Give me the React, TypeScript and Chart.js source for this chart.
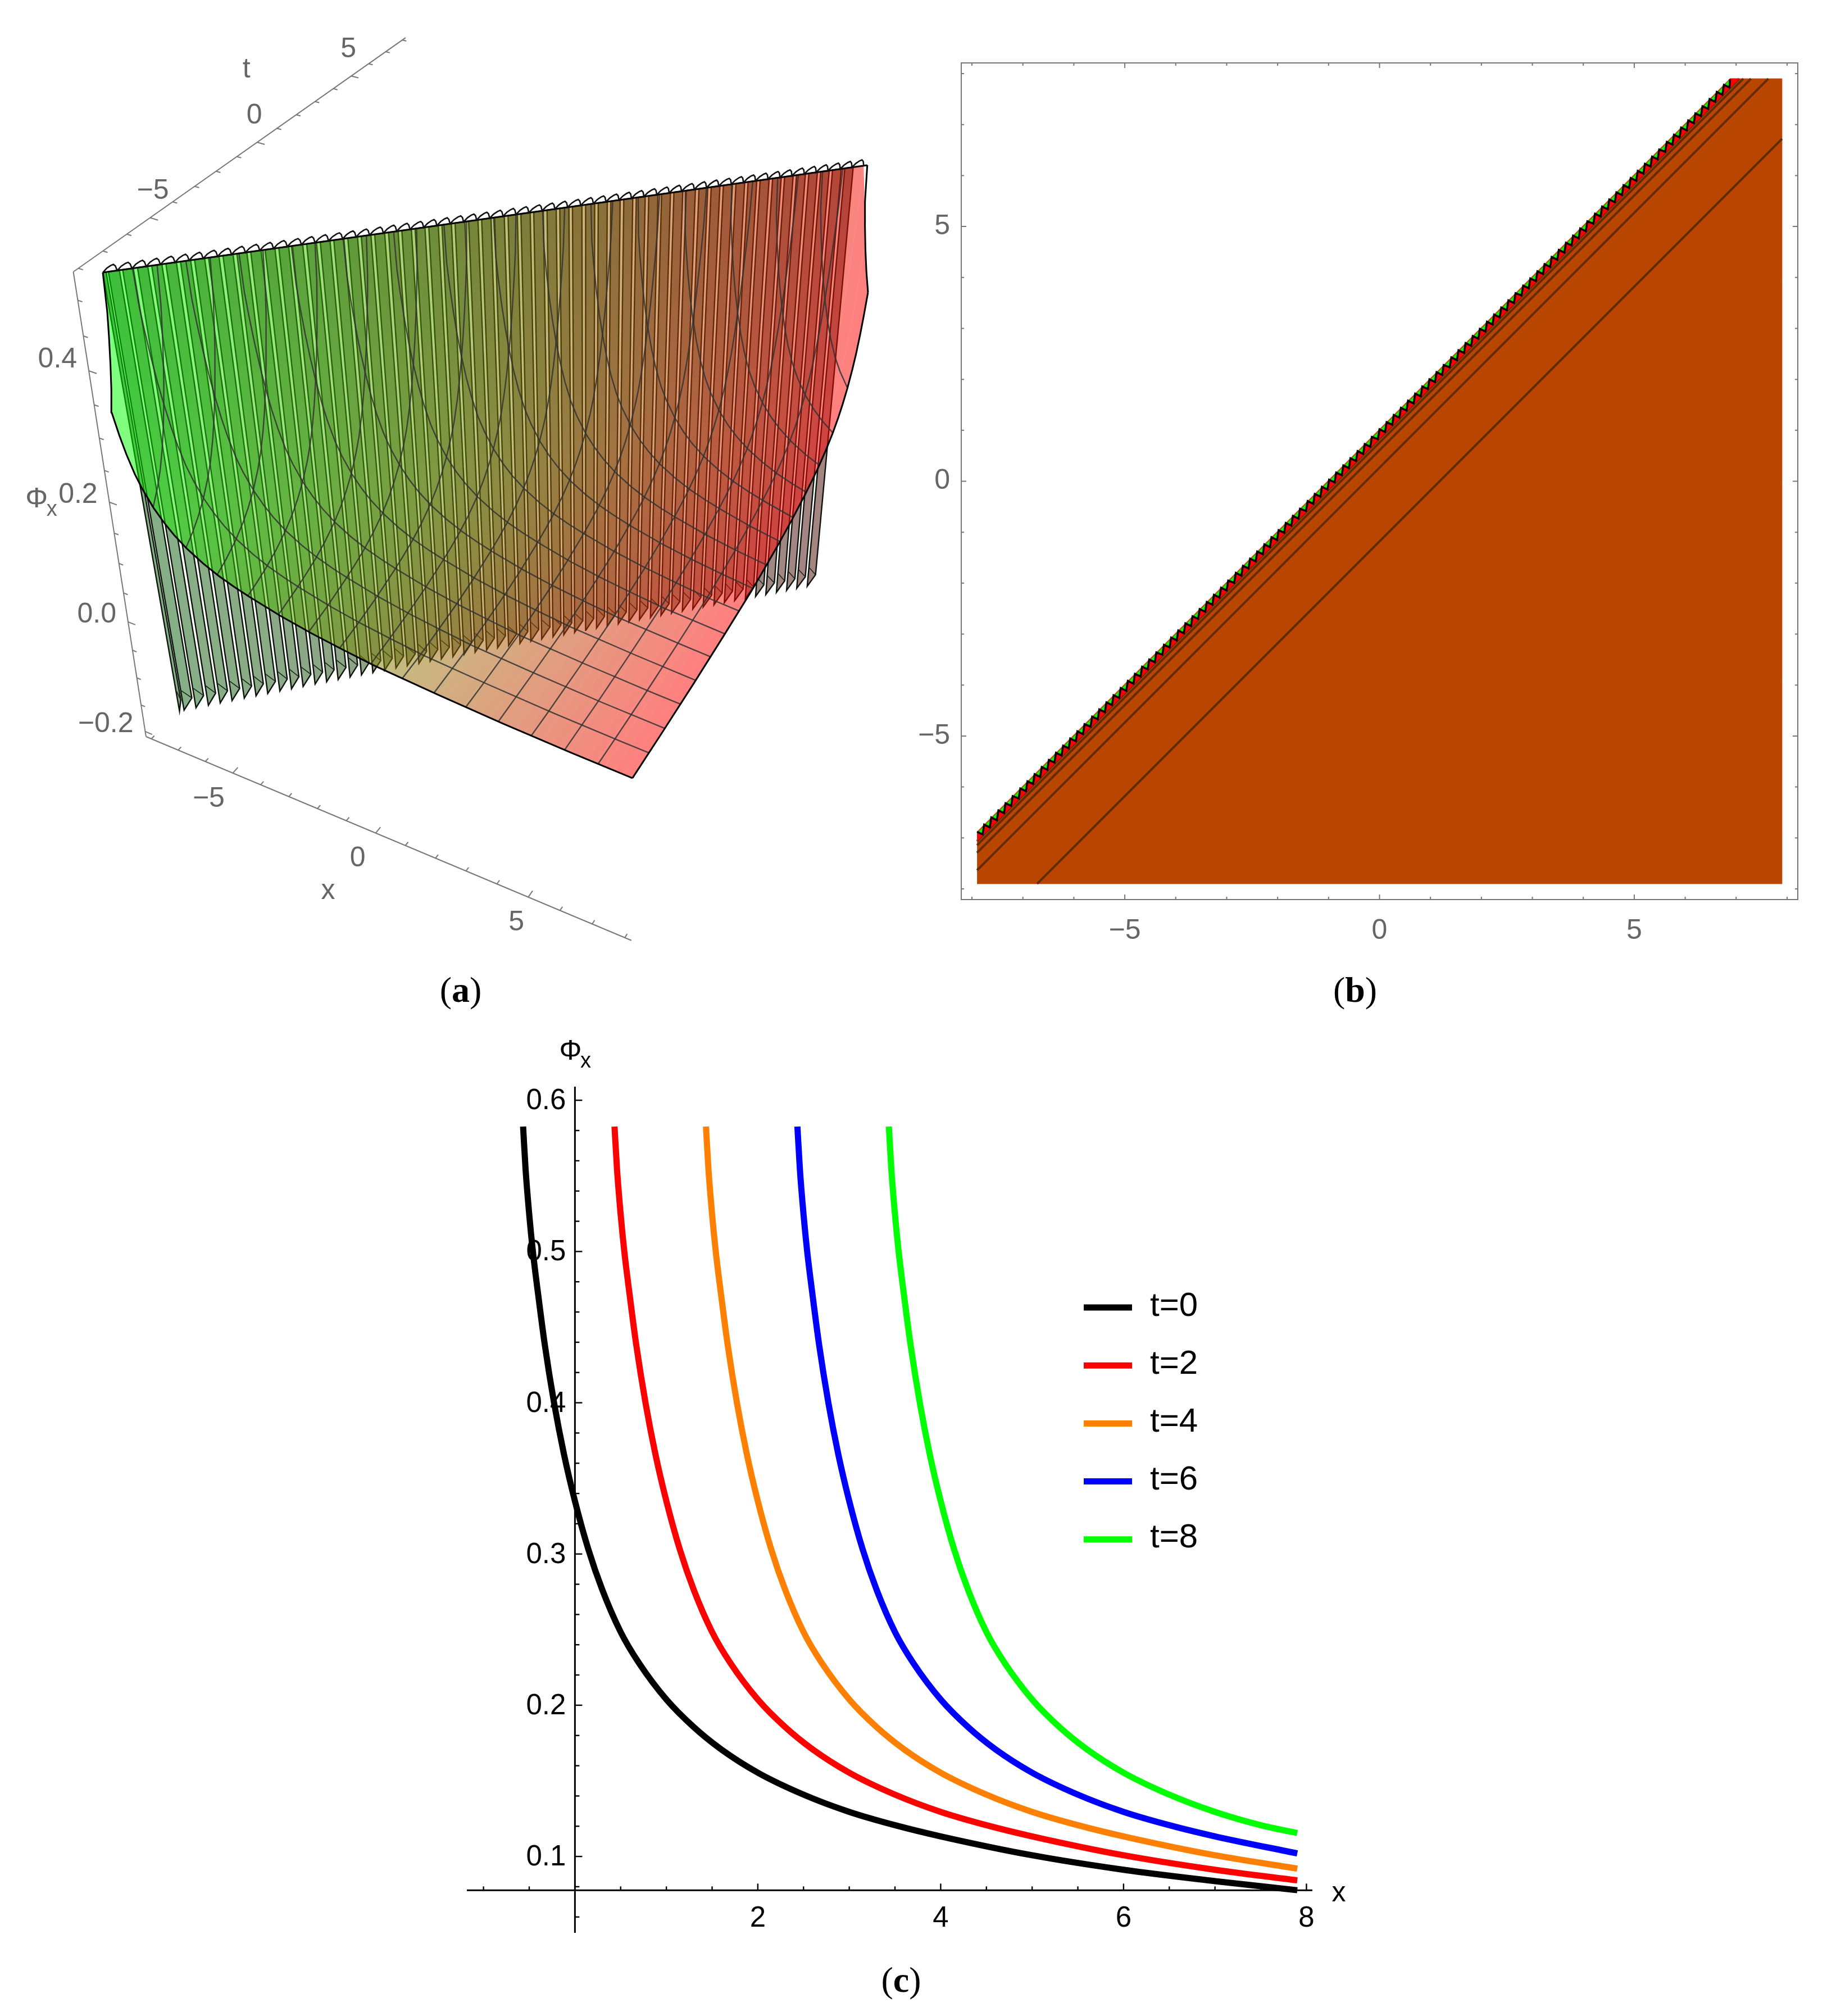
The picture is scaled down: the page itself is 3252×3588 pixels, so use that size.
import React, { useEffect, useRef } from 'react';
import Chart from 'chart.js/auto';

// --- panel (c): phi_x against x for five times
const t0X = [-0.567, -0.54, -0.5, -0.46, -0.4, -0.33, -0.227, -0.12, 0, 0.147, 0.3, 0.5, 0.7, 1, 1.3, 1.6, 2, 2.5, 3, 3.5, 4, 5, 6, 7, 7.9];
const t0Phi = [0.5826, 0.5545, 0.5245, 0.5, 0.4705, 0.4385, 0.3995, 0.366, 0.335, 0.303, 0.2762, 0.2484, 0.2279, 0.2038, 0.1855, 0.1708, 0.1554, 0.1409, 0.1295, 0.1207, 0.1133, 0.1008, 0.0912, 0.0837, 0.0777];
const t2X = [0.433, 0.46, 0.5, 0.54, 0.6, 0.67, 0.773, 0.88, 1, 1.147, 1.3, 1.5, 1.7, 2, 2.3, 2.6, 3, 3.5, 4, 4.5, 5, 6, 7, 7.9];
const t2Phi = [0.5826, 0.5545, 0.5245, 0.5, 0.4705, 0.4385, 0.3995, 0.366, 0.335, 0.303, 0.2762, 0.2484, 0.2279, 0.2038, 0.1855, 0.1708, 0.1554, 0.1409, 0.1295, 0.1207, 0.1133, 0.1008, 0.0912, 0.0842];
const t4X = [1.433, 1.46, 1.5, 1.54, 1.6, 1.67, 1.773, 1.88, 2, 2.147, 2.3, 2.5, 2.7, 3, 3.3, 3.6, 4, 4.5, 5, 5.5, 6, 7, 7.9];
const t4Phi = [0.5826, 0.5545, 0.5245, 0.5, 0.4705, 0.4385, 0.3995, 0.366, 0.335, 0.303, 0.2762, 0.2484, 0.2279, 0.2038, 0.1855, 0.1708, 0.1554, 0.1409, 0.1295, 0.1207, 0.1133, 0.1008, 0.092];
const t6X = [2.433, 2.46, 2.5, 2.54, 2.6, 2.67, 2.773, 2.88, 3, 3.147, 3.3, 3.5, 3.7, 4, 4.3, 4.6, 5, 5.5, 6, 6.5, 7, 7.9];
const t6Phi = [0.5826, 0.5545, 0.5245, 0.5, 0.4705, 0.4385, 0.3995, 0.366, 0.335, 0.303, 0.2762, 0.2484, 0.2279, 0.2038, 0.1855, 0.1708, 0.1554, 0.1409, 0.1295, 0.1207, 0.1133, 0.102];
const t8X = [3.433, 3.46, 3.5, 3.54, 3.6, 3.67, 3.773, 3.88, 4, 4.147, 4.3, 4.5, 4.7, 5, 5.3, 5.6, 6, 6.5, 7, 7.5, 7.9];
const t8Phi = [0.5826, 0.5545, 0.5245, 0.5, 0.4705, 0.4385, 0.3995, 0.366, 0.335, 0.303, 0.2762, 0.2484, 0.2279, 0.2038, 0.1855, 0.1708, 0.1554, 0.1409, 0.1295, 0.1207, 0.1155];
const legendLabels = ['t=0', 't=2', 't=4', 't=6', 't=8'];
const curveColors = ['#000000', '#ff0000', '#ff8000', '#0000ff', '#00ff00'];
const cXMajor = [2, 4, 6, 8];
const cXMinor = [-1, -0.5, 0.5, 1, 1.5, 2.5, 3, 3.5, 4.5, 5, 5.5, 6.5, 7, 7.5];
const cYMajor = [0.1, 0.2, 0.3, 0.4, 0.5, 0.6];
const cYMinor = [0.06, 0.08, 0.12, 0.14, 0.16, 0.18, 0.22, 0.24, 0.26, 0.28, 0.32, 0.34, 0.36, 0.38, 0.42, 0.44, 0.46, 0.48, 0.52, 0.54, 0.56, 0.58];

// --- panel (b): contour plot on the (x, t) plane
const bMajor = [-5, 0, 5];
const bMinor = [-8, -7, -6, -4, -3, -2, -1, 1, 2, 3, 4, 6, 7, 8];
const regionX = [-7.9, 7.9, 7.9, 6.88, -7.9];
const regionT = [-7.9, -7.9, 7.9, 7.9, -6.88];
const contourA = [[-6.72, -7.9], [7.9, 6.72]];
const contourB = [[-7.9, -7.636], [7.63, 7.9]];
const contourC = [[-7.9, -7.29], [7.29, 7.9]];
const contourD = [[-7.9, -7.145], [7.14, 7.9]];
const contourE = [[-7.9, -7.064], [7.06, 7.9]];
const cellX = [
  -7.9, -7.76, -7.62, -7.48, -7.34, -7.2, -7.05, -6.91, -6.77, -6.63, -6.49, -6.35, -6.21, -6.07, -5.93, -5.79, -5.64, -5.5,
  -5.36, -5.22, -5.08, -4.94, -4.8, -4.66, -4.52, -4.38, -4.23, -4.09, -3.95, -3.81, -3.67, -3.53, -3.39, -3.25, -3.11, -2.97,
  -2.82, -2.68, -2.54, -2.4, -2.26, -2.12, -1.98, -1.84, -1.7, -1.56, -1.41, -1.27, -1.13, -0.99, -0.85, -0.71, -0.57, -0.43,
  -0.29, -0.15, 0, 0.14, 0.28, 0.42, 0.56, 0.7, 0.84, 0.98, 1.12, 1.26, 1.41, 1.55, 1.69, 1.83, 1.97, 2.11, 2.25, 2.39, 2.53,
  2.67, 2.82, 2.96, 3.1, 3.24, 3.38, 3.52, 3.66, 3.8, 3.94, 4.08, 4.23, 4.37, 4.51, 4.65, 4.79, 4.93, 5.07, 5.21, 5.35, 5.49,
  5.64, 5.78, 5.92, 6.06, 6.2, 6.34, 6.48, 6.62, 6.76,
];

// --- panel (a): surface phi_x(x, t) seen through a camera
const gridX = [
  -7.9, -7.64, -7.37, -7.11, -6.85, -6.58, -6.32, -6.06, -5.79, -5.53, -5.27, -5, -4.74, -4.48, -4.21, -3.95,
  -3.69, -3.42, -3.16, -2.9, -2.63, -2.37, -2.11, -1.84, -1.58, -1.32, -1.05, -0.79, -0.53, -0.26, 0,
  0.26, 0.53, 0.79, 1.05, 1.32, 1.58, 1.84, 2.11, 2.37, 2.63, 2.9, 3.16, 3.42, 3.69, 3.95,
  4.21, 4.48, 4.74, 5, 5.27, 5.53, 5.79, 6.06, 6.32, 6.58, 6.85, 7.11, 7.37, 7.64, 7.9,
];
const meshLevels = [-6.91, -5.93, -4.94, -3.95, -2.96, -1.98, -0.99, 0, 0.99, 1.98, 2.96, 3.95, 4.94, 5.93, 6.91];
// phi_x as a function of distance d = x - t from the front of the wave
const surfaceD = [-0.45, -0.4, -0.33, -0.227, -0.12, 0, 0.147, 0.3, 0.5, 0.7, 1, 1.3, 1.6, 2, 2.5, 3, 3.5, 4, 5, 6, 7, 8, 10, 12, 14, 15.8];
const surfacePhi = [0.524, 0.4705, 0.4385, 0.3995, 0.366, 0.335, 0.303, 0.2762, 0.2484, 0.2279, 0.2038, 0.1855, 0.1708, 0.1554, 0.1409, 0.1295, 0.1207, 0.1133, 0.1008, 0.0912, 0.0837, 0.077, 0.069, 0.0625, 0.058, 0.055];
const aAxisTicks = [-8, -7, -6, -5, -4, -3, -2, -1, 0, 1, 2, 3, 4, 5, 6, 7, 8];
const aMajor = [-5, 0, 5];
const aPhiTicks = [-0.2, -0.15, -0.1, -0.05, 0, 0.05, 0.1, 0.15, 0.2, 0.25, 0.3, 0.35, 0.4, 0.45, 0.5];
const aPhiMajor = [-0.2, 0, 0.2, 0.4];

const SANS = '"Liberation Sans", Arial, sans-serif';
const GREY = '#666666';
const BOX = 8.2;
const PHI_MIN = -0.2097;
const PHI_MAX = 0.539;
const VIEW = 1568;

const zip = (xs: number[], ys: number[]) => xs.map((x, i) => ({ x, y: ys[i] }));
const pairs = (list: number[][]) => list.map(([x, y]) => ({ x, y }));
const minus = (v: number) => (v < 0 ? `\u2212${-v}` : `${v}`);

function project(x: number, t: number, phi: number) {
  const X = (x + BOX) / (2 * BOX);
  const T = (t + BOX) / (2 * BOX);
  const Z = (phi - PHI_MIN) * 1.335;
  const w = 1 - 0.1018 * X + 0.201 * T - 0.158 * Z;
  return {
    x: (247 + 712.3 * X + 611.1 * T - 142.6 * Z) / w,
    y: (1142 + 167.6 * X - 293.9 * T - 787.5 * Z) / w,
  };
}

function phiAt(d: number) {
  let i = 0;
  while (i < surfaceD.length - 2 && surfaceD[i + 1] < d) i++;
  const f = (d - surfaceD[i]) / (surfaceD[i + 1] - surfaceD[i]);
  return surfacePhi[i] + f * (surfacePhi[i + 1] - surfacePhi[i]);
}

function distances(hi: number, lo: number) {
  const inner = surfaceD.filter((d) => d > lo && d < hi).reverse();
  return [hi, ...inner, lo];
}

const RIDGE = -0.45;
const columnPath = (x: number) =>
  distances(x + 7.9, Math.max(x - 7.9, RIDGE)).map((d) => project(x, x - d, phiAt(d)));
const rowPath = (t: number) =>
  distances(7.9 - t, Math.max(-7.9 - t, RIDGE)).map((d) => project(t + d, t, phiAt(d)));

const mix = (a: number[], b: number[], f: number) => a.map((v, i) => Math.round(v + (b[i] - v) * f));
const frac = (x: number) => (x + 7.9) / 15.8;
const bodyColor = (x: number) => `rgba(${mix([0, 255, 0], [255, 0, 0], frac(x)).join(',')},0.5)`;
const faceColor = (x: number) => `rgba(${mix([55, 122, 55], [105, 47, 47], frac(x)).join(',')},0.6)`;

function line(data: any[], color: string, width: number, extra: any = {}) {
  return { data, borderColor: color, borderWidth: width, pointRadius: 0, showLine: true, fill: false, clip: false, ...extra };
}

function foldPolygon(a: number, b: number) {
  return [
    project(a, a + 0.45, 0.524),
    project(b, b + 0.45, 0.524),
    project(b, b + 1, -0.185),
    project(a, a + 1, -0.205),
  ];
}

function surfaceDatasets() {
  const sets: any[] = [];
  const folds: number[][] = [[-7.9, -7.84], [-7.8, -7.6]];
  for (let i = 1; i < 57; i++) {
    const a = gridX[i] + 0.1;
    folds.push([a, a + 0.72 * (gridX[i + 1] - gridX[i])]);
  }
  // thin folds that hang from the front of the wave, seen through the sheet
  for (const [a, b] of folds) {
    const poly = foldPolygon(a, b);
    sets.push(line([...poly, poly[0]], '#0c140c', 2.4, { fill: 'shape', backgroundColor: faceColor(a) }));
    sets.push(line([project(b, b + 1, -0.185), project(a, a + 1, -0.168)], '#1c261c', 1.6));
  }
  // translucent sheet, one strip per grid step
  for (let i = 0; i < gridX.length - 1; i++) {
    const mid = (gridX[i] + gridX[i + 1]) / 2;
    const poly = [...columnPath(gridX[i]), ...columnPath(gridX[i + 1]).reverse()];
    sets.push(line(poly, 'rgba(0,0,0,0)', 0, { fill: 'shape', backgroundColor: bodyColor(mid) }));
  }
  // folds get darker toward the clipped top, where more layers stack up
  for (const [a, b] of folds) {
    const poly = foldPolygon(a, b);
    const top = poly[0].y;
    const low = project(a, a + 0.8, 0.12).y;
    sets.push(line([...poly, poly[0]], 'rgba(0,0,0,0)', 0, {
      fill: 'shape',
      backgroundColor: (c: any) => {
        const k = c.chart.height / VIEW;
        const g = c.chart.ctx.createLinearGradient(0, top * k, 0, low * k);
        g.addColorStop(0, 'rgba(20,20,0,0.12)');
        g.addColorStop(1, 'rgba(20,20,0,0)');
        return g;
      },
    }));
  }
  // mesh
  for (const m of meshLevels) {
    sets.push(line(columnPath(m), 'rgba(50,50,50,0.85)', 2.4));
    sets.push(line(rowPath(m), 'rgba(50,50,50,0.85)', 2.4));
  }
  // outline
  sets.push(line(rowPath(-7.9), '#000', 3));
  sets.push(line(columnPath(7.9), '#000', 3));
  sets.push(line(rowPath(7.9), '#000', 3));
  sets.push(line(columnPath(-7.9), '#000', 3));
  sets.push(line([project(-7.9, -7.45, 0.524), project(7.45, 7.9, 0.524)], '#000', 3));
  // saw teeth above the clipped front
  const shape = [[0, 0], [0.3, 0.005], [0.6, 0.008], [0.8, 0.009], [0.92, 0.0065], [1, 0]];
  const saw: any[] = [];
  for (let i = 0; i < 58; i++) {
    const step = gridX[i + 1] - gridX[i];
    for (const [f, h] of shape) {
      const x = gridX[i] + f * step;
      saw.push(project(x, x + 0.45, 0.524 + h));
    }
  }
  sets.push(line(saw, '#111', 2.6));
  // box edges and ticks
  const axisGrey = '#777777';
  sets.push(line([project(-BOX, -BOX, PHI_MIN), project(BOX, -BOX, PHI_MIN)], axisGrey, 2));
  sets.push(line([project(-BOX, -BOX, PHI_MAX), project(-BOX, BOX, PHI_MAX)], axisGrey, 2));
  sets.push(line([project(-BOX, -BOX, PHI_MIN), project(-BOX, -BOX, PHI_MAX)], axisGrey, 2));
  for (const v of aAxisTicks) {
    const len = aMajor.includes(v) ? 0.26 : 0.15;
    sets.push(line([project(v, -BOX, PHI_MIN), project(v, -BOX + len, PHI_MIN)], axisGrey, 2));
    sets.push(line([project(-BOX, v, PHI_MAX), project(-BOX + len, v, PHI_MAX)], axisGrey, 2));
  }
  for (const v of aPhiTicks) {
    const len = aPhiMajor.includes(v) ? 0.26 : 0.15;
    sets.push(line([project(-BOX, -BOX, v), project(-BOX + len, -BOX, v)], axisGrey, 2));
  }
  return sets.reverse();
}

function text(ctx: any, s: string, x: number, y: number, font: string, color: string, align: CanvasTextAlign = 'center') {
  ctx.font = font;
  ctx.fillStyle = color;
  ctx.textAlign = align;
  ctx.textBaseline = 'middle';
  ctx.fillText(s, x, y);
}

const surfaceLabels = {
  id: 'surfaceLabels',
  afterDraw(chart: any) {
    const { ctx, scales } = chart;
    const px = (p: { x: number; y: number }) => ({ x: scales.x.getPixelForValue(p.x), y: scales.y.getPixelForValue(p.y) });
    const font = `50px ${SANS}`;
    ctx.save();
    for (const v of aMajor) {
      const a = px(project(v, -BOX, PHI_MIN));
      text(ctx, minus(v), a.x - 32 + v * 2.2, a.y + 46, font, GREY);
      const b = px(project(-BOX, v, PHI_MAX));
      text(ctx, minus(v), b.x - 5 + (v < 0 ? 10 : 0), b.y - 47, font, GREY);
    }
    for (const v of aPhiMajor) {
      const a = px(project(-BOX, -BOX, v));
      text(ctx, v === 0 ? '0.0' : minus(v), a.x - 21, a.y - (v === 0.4 ? 20 : 13), font, GREY, 'right');
    }
    const tp = px({ x: 417, y: 108 });
    text(ctx, 't', tp.x, tp.y, font, GREY);
    const xp = px({ x: 555, y: 1382 });
    text(ctx, 'x', xp.x, xp.y, font, GREY);
    const fp = px({ x: 62, y: 775 });
    text(ctx, '\u03a6', fp.x, fp.y, font, GREY);
    text(ctx, 'x', fp.x + 27, fp.y + 18, `38px ${SANS}`, GREY);
    ctx.restore();
  },
};

const frameTicks = {
  id: 'frameTicks',
  afterDraw(chart: any) {
    const { ctx, scales, chartArea: a } = chart;
    ctx.save();
    ctx.strokeStyle = '#777777';
    ctx.lineWidth = 2;
    ctx.strokeRect(a.left, a.top, a.right - a.left, a.bottom - a.top);
    const mark = (list: number[], len: number) => {
      for (const v of list) {
        const x = scales.x.getPixelForValue(v);
        const y = scales.y.getPixelForValue(v);
        ctx.beginPath();
        ctx.moveTo(x, a.bottom); ctx.lineTo(x, a.bottom - len);
        ctx.moveTo(x, a.top); ctx.lineTo(x, a.top + len);
        ctx.moveTo(a.left, y); ctx.lineTo(a.left + len, y);
        ctx.moveTo(a.right, y); ctx.lineTo(a.right - len, y);
        ctx.stroke();
      }
    };
    mark(bMajor, 9);
    mark(bMinor, 5);
    ctx.restore();
  },
};

const crossAxes = {
  id: 'crossAxes',
  afterDraw(chart: any) {
    const { ctx, scales, chartArea: a } = chart;
    const x0 = scales.x.getPixelForValue(0);
    const y0 = scales.y.getPixelForValue(0.0776);
    const font = `51px ${SANS}`;
    ctx.save();
    ctx.strokeStyle = '#000';
    ctx.lineWidth = 3;
    ctx.beginPath();
    ctx.moveTo(a.left, y0); ctx.lineTo(a.right, y0);
    ctx.moveTo(x0, a.top); ctx.lineTo(x0, a.bottom);
    ctx.stroke();
    ctx.lineWidth = 2.4;
    const xTick = (v: number, len: number) => {
      const x = scales.x.getPixelForValue(v);
      ctx.beginPath(); ctx.moveTo(x, y0); ctx.lineTo(x, y0 - len); ctx.stroke();
    };
    const yTick = (v: number, len: number) => {
      const y = scales.y.getPixelForValue(v);
      ctx.beginPath(); ctx.moveTo(x0, y); ctx.lineTo(x0 + len, y); ctx.stroke();
    };
    cXMinor.forEach((v) => xTick(v, 7));
    cXMajor.forEach((v) => xTick(v, 12));
    cYMinor.forEach((v) => yTick(v, 8));
    cYMajor.forEach((v) => yTick(v, 13));
    for (const v of cXMajor) text(ctx, `${v}`, scales.x.getPixelForValue(v), y0 + 51, font, '#000');
    for (const v of cYMajor) text(ctx, v.toFixed(1), x0 - 16, scales.y.getPixelForValue(v) + 2, font, '#000', 'right');
    text(ctx, 'x', a.right + 47, y0 + 6, `50px ${SANS}`, '#000');
    text(ctx, '\u03a6', x0 - 8, a.top - 62, `50px ${SANS}`, '#000');
    text(ctx, 'x', x0 + 19, a.top - 44, `38px ${SANS}`, '#000');
    // legend
    legendLabels.forEach((label, i) => {
      const y = 2327 - 1840 + i * 103.2;
      ctx.strokeStyle = curveColors[i];
      ctx.lineWidth = 11;
      ctx.beginPath();
      ctx.moveTo(1229, y); ctx.lineTo(1315, y);
      ctx.stroke();
      text(ctx, label, 1347, y - 2, `60px ${SANS}`, '#000', 'left');
    });
    ctx.restore();
  },
};

function surfaceConfig(): any {
  return {
    type: 'scatter',
    data: { datasets: surfaceDatasets() },
    options: {
      animation: false, responsive: false, devicePixelRatio: 1,
      plugins: { legend: { display: false }, tooltip: { enabled: false } },
      scales: {
        x: { display: false, min: 0, max: VIEW },
        y: { display: false, min: 0, max: VIEW, reverse: true },
      },
    },
    plugins: [surfaceLabels],
  };
}

function contourConfig(): any {
  // red and green cells with the black zig-zag along the edge of the region
  const zig: any[] = [];
  const tops: any[] = [];
  cellX.forEach((x, i) => {
    const step = (cellX[i + 1] ?? x + 0.141) - x;
    const bx = x + 0.78 * step;
    zig.push({ x, y: x + 1.02 }, { x: bx, y: bx + 0.86 });
    tops.push({ x, y: x + 0.99 });
  });
  const zigEnd = { x: 6.88, y: 7.89 };
  zig.push(zigEnd);
  const red = [{ x: -7.9, y: -7.064 }, { x: 7.06, y: 7.9 }, { x: 6.88, y: 7.9 }, ...[...zig].reverse(), { x: -7.9, y: -6.88 }];
  const greenBand = [...zig, zigEnd, ...[...tops].reverse()];
  const datasets = [
    line(zip(regionX, regionT), '#b84500', 1, { fill: 'shape', backgroundColor: '#b84500' }),
    ...[contourA, contourB, contourC, contourD, contourE].map((c) => line(pairs(c), '#642a04', 4)),
    line(greenBand, '#00ff00', 0.5, { fill: 'shape', backgroundColor: '#00ff00' }),
    line(red, '#ff0000', 1, { fill: 'shape', backgroundColor: '#ff0000' }),
    line(zig, '#000000', 3.6),
  ].reverse();
  const axis = (id: string) => ({
    type: 'linear', min: -8.21, max: 8.21,
    afterBuildTicks: (s: any) => { s.ticks = bMajor.map((value) => ({ value })); },
    afterFit: (s: any) => {
      if (id === 'x') s.height = 100; else s.width = 100;
      s.paddingTop = 0; s.paddingBottom = 0; s.paddingLeft = 0; s.paddingRight = 0;
    },
    grid: { display: false }, border: { display: false },
    ticks: {
      color: GREY, font: { size: 50, family: SANS }, padding: id === 'x' ? 18 : 12,
      autoSkip: false, maxRotation: 0, callback: (v: number) => minus(v),
    },
  });
  return {
    type: 'scatter',
    data: { datasets },
    options: {
      animation: false, responsive: false, devicePixelRatio: 1,
      layout: { padding: { top: 12, right: 10 } },
      plugins: { legend: { display: false }, tooltip: { enabled: false } },
      scales: { x: axis('x'), y: axis('y') },
    },
    plugins: [frameTicks],
  };
}

function curvesConfig(): any {
  const series = [zip(t0X, t0Phi), zip(t2X, t2Phi), zip(t4X, t4Phi), zip(t6X, t6Phi), zip(t8X, t8Phi)];
  const datasets = series
    .map((data, i) => ({
      label: legendLabels[i], data, borderColor: curveColors[i], borderWidth: 11,
      pointRadius: 0, showLine: true, cubicInterpolationMode: 'monotone', borderCapStyle: 'butt',
    }))
    .reverse();
  return {
    type: 'scatter',
    data: { datasets },
    options: {
      animation: false, responsive: false, devicePixelRatio: 1,
      layout: { padding: { left: 131, right: 164, top: 94, bottom: 40 } },
      plugins: { legend: { display: false }, tooltip: { enabled: false } },
      scales: {
        x: { display: false, min: -1.182, max: 8.065 },
        y: { display: false, min: 0.0495, max: 0.609 },
      },
    },
    plugins: [crossAxes],
  };
}

interface PanelProps {
  left: number;
  top: number;
  width: number;
  height: number;
  config: () => any;
}

const Panel: React.FC<PanelProps> = ({ left, top, width, height, config }) => {
  const canvasRef = useRef<HTMLCanvasElement>(null);
  useEffect(() => {
    if (!canvasRef.current) return;
    const chart = new Chart(canvasRef.current, config());
    return () => chart.destroy();
  }, [config]);
  return <canvas ref={canvasRef} width={width} height={height} style={{ position: 'absolute', left, top, width, height }} />;
};

const Caption: React.FC<{ x: number; y: number; letter: string }> = ({ x, y, letter }) => (
  <div style={{ position: 'absolute', left: x, top: y, transform: 'translate(-50%, -50%)', font: '64px "Liberation Serif", serif', color: '#000' }}>
    (<b>{letter}</b>)
  </div>
);

export default function App() {
  return (
    <div style={{ position: 'absolute', left: 0, top: 0, width: 3252, height: 3588, background: '#fff', overflow: 'hidden' }}>
      <Panel left={0} top={0} width={1650} height={1800} config={surfaceConfig} />
      <Panel left={1611} top={100} width={1599} height={1601} config={contourConfig} />
      <Panel left={700} top={1840} width={1800} height={1640} config={curvesConfig} />
      <Caption x={820} y={1762} letter="a" />
      <Caption x={2412} y={1762} letter="b" />
      <Caption x={1604} y={3524} letter="c" />
    </div>
  );
}
